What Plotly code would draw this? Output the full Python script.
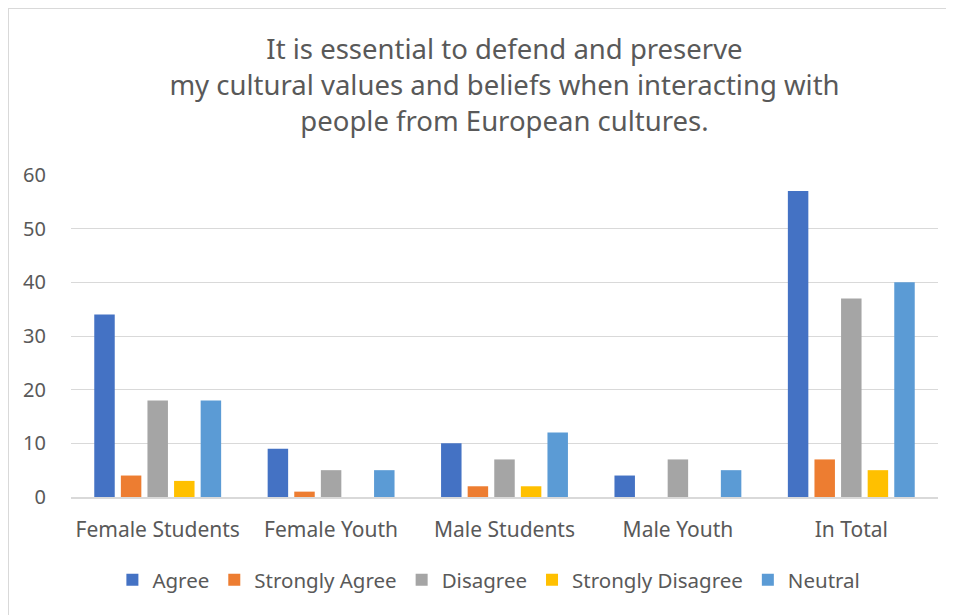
import plotly.graph_objects as go

categories = ["Female Students", "Female Youth", "Male Students", "Male Youth", "In Total"]
series_names = ["Agree", "Strongly Agree", "Disagree", "Strongly Disagree", "Neutral"]
agree = [34, 9, 10, 4, 57]
strongly_agree = [4, 1, 2, 0, 7]
disagree = [18, 5, 7, 7, 37]
strongly_disagree = [3, 0, 2, 0, 5]
neutral = [18, 5, 12, 5, 40]
colors = ["#4472C4", "#ED7D31", "#A5A5A5", "#FFC000", "#5B9BD5"]
y_ticks = [0, 10, 20, 30, 40, 50, 60]

values = [agree, strongly_agree, disagree, strongly_disagree, neutral]

FONT = "Noto Sans"
TXT = "#595959"
fig = go.Figure()
for name, vals, col in zip(series_names, values, colors):
    fig.add_trace(go.Bar(x=categories, y=vals, name=name, marker_color=col,
                         marker_line_width=0))

# page body has an 8px margin, so figure is 946x607 placed at (8,8)
W, H = 946, 607
ml, mr, mt, mb = 63, 16, 167, 118
pw, ph = W - ml - mr, H - mt - mb

fig.update_layout(
    width=W, height=H,
    margin=dict(l=ml, r=mr, t=mt, b=mb),
    paper_bgcolor="white", plot_bgcolor="white",
    font=dict(family=FONT, color=TXT, size=20),
    title=dict(text="It is essential to defend and preserve<br>my cultural values and beliefs when interacting with<br>people from European cultures.",
               x=(pw / 2 + ml) / W, xanchor="center", xref="container",
               y=1 - 51 / H, yanchor="middle", yref="container",
               font=dict(size=27.5, color=TXT, family=FONT)),
    barmode="group", bargap=0.233, bargroupgap=0.23,
    xaxis=dict(showgrid=False, showline=True, linecolor="#D9D9D9", linewidth=2,
               ticks="", tickfont=dict(size=21, color=TXT), ticklabelstandoff=13),
    yaxis=dict(range=[0, 60], tickvals=y_ticks, showgrid=True, gridcolor="#D9D9D9",
               gridwidth=1.3, zeroline=False, showline=False, ticks="",
               tickfont=dict(size=20, color=TXT), ticklabelstandoff=24),
    legend=dict(orientation="h", x=0.482, xanchor="center",
                y=(489 - 572) / ph, yanchor="middle",
                font=dict(size=20.5, color=TXT), itemwidth=30,
                traceorder="normal"),
    showlegend=True,
)
fig.add_shape(type="rect", xref="paper", yref="paper",
              x0=(0 - ml) / pw, x1=(960 - ml) / pw,
              y0=(H - mb - 620) / ph, y1=(H - mb - 0) / ph,
              line=dict(color="#D9D9D9", width=2), fillcolor="rgba(0,0,0,0)", layer="below")

fig.write_html("out.html")
